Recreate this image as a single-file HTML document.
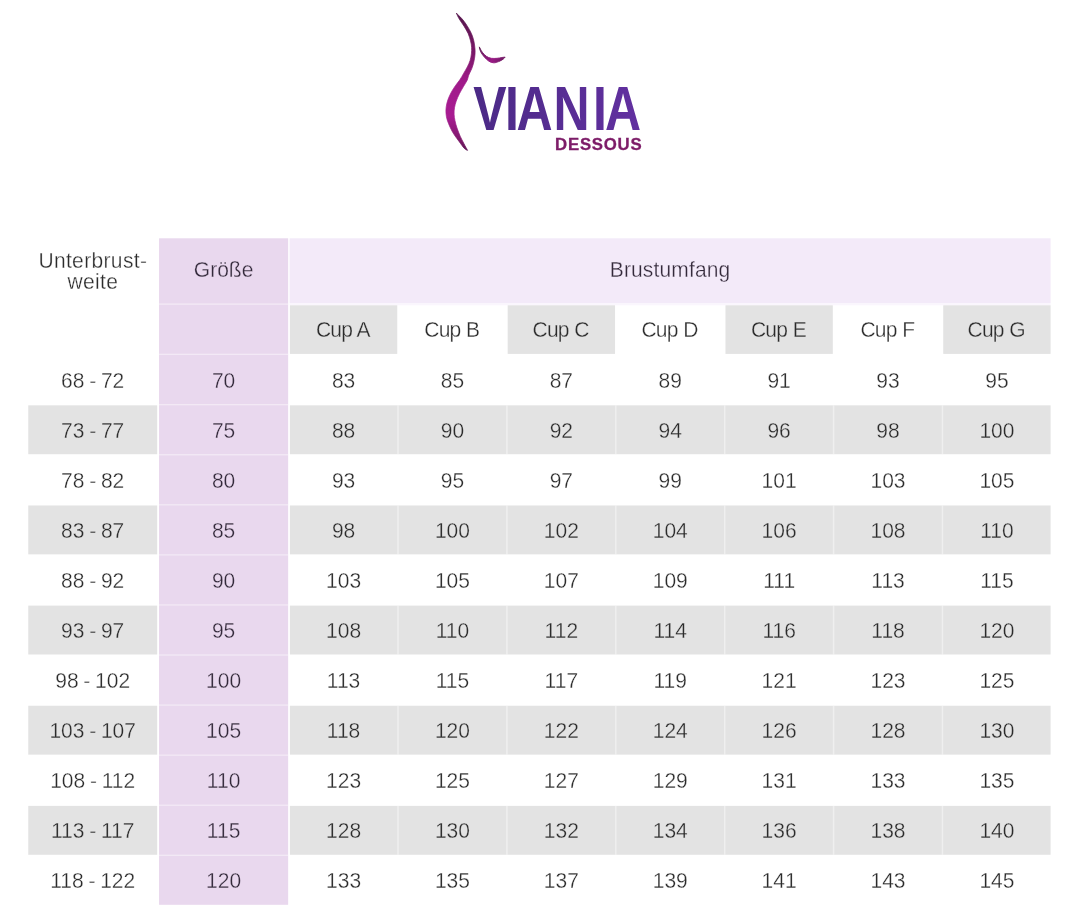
<!DOCTYPE html>
<html lang="de"><head><meta charset="utf-8"><title>VIANIA Dessous Größentabelle</title>
<style>
html,body{margin:0;padding:0;background:#fff;}
body{width:1080px;height:921px;position:relative;overflow:hidden;font-family:"Liberation Sans",sans-serif;color:#2b2b2b;}
.c{position:absolute;text-align:center;font-size:21px;white-space:nowrap;height:50px;line-height:50px;-webkit-text-stroke:0.3px #fff;transform:scaleY(1.06);word-spacing:-1.1px;}
.k{letter-spacing:-0.8px;word-spacing:0.6px;}
.u{letter-spacing:0.35px;}
.w{letter-spacing:0.15px;}
.g{-webkit-text-stroke-color:#e3e3e3;}
.p{-webkit-text-stroke-color:#e9d8ee;color:#33293a;}
.b{-webkit-text-stroke-color:#f3eaf9;color:#33293a;}
svg{position:absolute;left:0;top:0;}
</style></head><body>
<svg width="1080" height="921" viewBox="0 0 1080 921">
<defs>
<linearGradient id="fg" x1="0" y1="13" x2="0" y2="151" gradientUnits="userSpaceOnUse">
<stop offset="0" stop-color="#55164c"/><stop offset="0.3" stop-color="#7c1769"/><stop offset="0.5" stop-color="#a01a8a"/><stop offset="0.75" stop-color="#a81c92"/><stop offset="0.92" stop-color="#7e186b"/><stop offset="1" stop-color="#5a1550"/>
</linearGradient>
<linearGradient id="tg" x1="605" y1="0" x2="817" y2="0" gradientUnits="userSpaceOnUse">
<stop offset="0" stop-color="#4b2a86"/><stop offset="1" stop-color="#6230a0"/>
</linearGradient>
<linearGradient id="bg" x1="479" y1="47" x2="505" y2="60" gradientUnits="userSpaceOnUse">
<stop offset="0" stop-color="#5a1550"/><stop offset="0.6" stop-color="#9a1a86"/><stop offset="1" stop-color="#6a1a5e"/>
</linearGradient>
</defs>
<rect x="289.60" y="238.30" width="760.99" height="64.80" fill="#f3eaf9"/>
<rect x="289.60" y="303.10" width="760.99" height="2.20" fill="#faf6fd"/>
<rect x="289.90" y="305.30" width="107.35" height="48.60" fill="#e3e3e3"/>
<rect x="507.68" y="305.30" width="107.35" height="48.60" fill="#e3e3e3"/>
<rect x="725.46" y="305.30" width="107.35" height="48.60" fill="#e3e3e3"/>
<rect x="943.24" y="305.30" width="107.35" height="48.60" fill="#e3e3e3"/>
<rect x="28.25" y="405.32" width="128.95" height="48.90" fill="#e3e3e3"/>
<rect x="289.90" y="405.32" width="760.69" height="48.90" fill="#e3e3e3"/>
<rect x="397.25" y="405.32" width="1.54" height="48.90" fill="#fff" fill-opacity="0.42"/>
<rect x="506.14" y="405.32" width="1.54" height="48.90" fill="#fff" fill-opacity="0.42"/>
<rect x="615.03" y="405.32" width="1.54" height="48.90" fill="#fff" fill-opacity="0.42"/>
<rect x="723.92" y="405.32" width="1.54" height="48.90" fill="#fff" fill-opacity="0.42"/>
<rect x="832.81" y="405.32" width="1.54" height="48.90" fill="#fff" fill-opacity="0.42"/>
<rect x="941.70" y="405.32" width="1.54" height="48.90" fill="#fff" fill-opacity="0.42"/>
<rect x="28.25" y="505.46" width="128.95" height="48.90" fill="#e3e3e3"/>
<rect x="289.90" y="505.46" width="760.69" height="48.90" fill="#e3e3e3"/>
<rect x="397.25" y="505.46" width="1.54" height="48.90" fill="#fff" fill-opacity="0.42"/>
<rect x="506.14" y="505.46" width="1.54" height="48.90" fill="#fff" fill-opacity="0.42"/>
<rect x="615.03" y="505.46" width="1.54" height="48.90" fill="#fff" fill-opacity="0.42"/>
<rect x="723.92" y="505.46" width="1.54" height="48.90" fill="#fff" fill-opacity="0.42"/>
<rect x="832.81" y="505.46" width="1.54" height="48.90" fill="#fff" fill-opacity="0.42"/>
<rect x="941.70" y="505.46" width="1.54" height="48.90" fill="#fff" fill-opacity="0.42"/>
<rect x="28.25" y="605.60" width="128.95" height="48.90" fill="#e3e3e3"/>
<rect x="289.90" y="605.60" width="760.69" height="48.90" fill="#e3e3e3"/>
<rect x="397.25" y="605.60" width="1.54" height="48.90" fill="#fff" fill-opacity="0.42"/>
<rect x="506.14" y="605.60" width="1.54" height="48.90" fill="#fff" fill-opacity="0.42"/>
<rect x="615.03" y="605.60" width="1.54" height="48.90" fill="#fff" fill-opacity="0.42"/>
<rect x="723.92" y="605.60" width="1.54" height="48.90" fill="#fff" fill-opacity="0.42"/>
<rect x="832.81" y="605.60" width="1.54" height="48.90" fill="#fff" fill-opacity="0.42"/>
<rect x="941.70" y="605.60" width="1.54" height="48.90" fill="#fff" fill-opacity="0.42"/>
<rect x="28.25" y="705.74" width="128.95" height="48.90" fill="#e3e3e3"/>
<rect x="289.90" y="705.74" width="760.69" height="48.90" fill="#e3e3e3"/>
<rect x="397.25" y="705.74" width="1.54" height="48.90" fill="#fff" fill-opacity="0.42"/>
<rect x="506.14" y="705.74" width="1.54" height="48.90" fill="#fff" fill-opacity="0.42"/>
<rect x="615.03" y="705.74" width="1.54" height="48.90" fill="#fff" fill-opacity="0.42"/>
<rect x="723.92" y="705.74" width="1.54" height="48.90" fill="#fff" fill-opacity="0.42"/>
<rect x="832.81" y="705.74" width="1.54" height="48.90" fill="#fff" fill-opacity="0.42"/>
<rect x="941.70" y="705.74" width="1.54" height="48.90" fill="#fff" fill-opacity="0.42"/>
<rect x="28.25" y="805.88" width="128.95" height="48.90" fill="#e3e3e3"/>
<rect x="289.90" y="805.88" width="760.69" height="48.90" fill="#e3e3e3"/>
<rect x="397.25" y="805.88" width="1.54" height="48.90" fill="#fff" fill-opacity="0.42"/>
<rect x="506.14" y="805.88" width="1.54" height="48.90" fill="#fff" fill-opacity="0.42"/>
<rect x="615.03" y="805.88" width="1.54" height="48.90" fill="#fff" fill-opacity="0.42"/>
<rect x="723.92" y="805.88" width="1.54" height="48.90" fill="#fff" fill-opacity="0.42"/>
<rect x="832.81" y="805.88" width="1.54" height="48.90" fill="#fff" fill-opacity="0.42"/>
<rect x="941.70" y="805.88" width="1.54" height="48.90" fill="#fff" fill-opacity="0.42"/>
<rect x="159.05" y="238.30" width="129.10" height="666.50" fill="#e9d8ee"/>
<rect x="159.05" y="303.40" width="129.10" height="1.40" fill="#fff" fill-opacity="0.45"/>
<rect x="159.05" y="353.70" width="129.10" height="1.30" fill="#fff" fill-opacity="0.45"/>
<rect x="159.05" y="404.02" width="129.10" height="1.30" fill="#fff" fill-opacity="0.45"/>
<rect x="159.05" y="454.09" width="129.10" height="1.30" fill="#fff" fill-opacity="0.45"/>
<rect x="159.05" y="504.16" width="129.10" height="1.30" fill="#fff" fill-opacity="0.45"/>
<rect x="159.05" y="554.23" width="129.10" height="1.30" fill="#fff" fill-opacity="0.45"/>
<rect x="159.05" y="604.30" width="129.10" height="1.30" fill="#fff" fill-opacity="0.45"/>
<rect x="159.05" y="654.37" width="129.10" height="1.30" fill="#fff" fill-opacity="0.45"/>
<rect x="159.05" y="704.44" width="129.10" height="1.30" fill="#fff" fill-opacity="0.45"/>
<rect x="159.05" y="754.51" width="129.10" height="1.30" fill="#fff" fill-opacity="0.45"/>
<rect x="159.05" y="804.58" width="129.10" height="1.30" fill="#fff" fill-opacity="0.45"/>
<rect x="159.05" y="854.65" width="129.10" height="1.30" fill="#fff" fill-opacity="0.45"/>
<path fill="url(#fg)" stroke="url(#fg)" stroke-width="0.7" stroke-linejoin="round" d="M456.3,13.1 C457.2,14.1 460.2,16.8 462.0,18.8 C463.8,20.9 465.3,22.9 466.9,25.4 C468.5,27.8 470.2,30.9 471.4,33.5 C472.5,36.1 473.2,38.2 473.8,40.8 C474.4,43.4 474.8,46.5 475.0,49.0 C475.2,51.5 475.1,53.3 474.9,55.5 C474.7,57.7 474.3,59.8 473.8,62.0 C473.3,64.2 472.7,66.2 471.8,68.5 C470.9,70.8 469.2,73.9 468.5,75.8 C467.8,77.7 468.1,78.2 467.3,80.0 C466.5,81.8 464.8,84.2 463.5,86.5 C462.2,88.8 460.6,91.3 459.4,93.8 C458.2,96.2 457.0,98.9 456.2,101.2 C455.4,103.5 454.9,105.5 454.5,107.7 C454.1,109.9 454.0,112.0 454.1,114.2 C454.2,116.4 454.5,118.4 455.0,120.7 C455.5,123.0 456.1,125.4 457.0,128.0 C457.9,130.6 459.1,133.6 460.2,136.2 C461.3,138.8 462.7,141.1 463.9,143.5 C465.1,145.9 467.0,149.2 467.6,150.4 C467.1,150.1 465.7,149.8 464.3,148.4 C462.9,147.0 461.1,144.2 459.4,141.9 C457.7,139.6 455.7,137.0 454.1,134.6 C452.6,132.2 451.2,129.7 450.1,127.2 C449.0,124.8 447.9,122.2 447.2,119.9 C446.5,117.6 446.2,115.6 446.0,113.4 C445.8,111.2 445.9,109.2 446.2,106.9 C446.5,104.6 447.1,102.0 448.0,99.5 C448.9,97.0 450.1,94.5 451.3,92.2 C452.5,89.9 454.0,87.7 455.4,85.7 C456.8,83.7 458.3,82.0 459.7,80.0 C461.1,78.0 462.3,75.6 463.6,73.4 C464.9,71.2 466.2,69.1 467.3,66.9 C468.4,64.7 469.4,62.6 470.1,60.4 C470.8,58.2 471.1,56.1 471.4,53.9 C471.6,51.7 471.8,49.5 471.6,47.3 C471.5,45.1 471.1,43.1 470.5,40.8 C469.9,38.5 469.2,35.9 468.1,33.5 C467.0,31.1 465.5,28.6 464.0,26.2 C462.5,23.8 460.4,21.0 459.1,18.8 C457.8,16.6 456.8,14.1 456.3,13.1 Z"/>
<path fill="url(#bg)" stroke="url(#bg)" stroke-width="0.9" stroke-linejoin="round" d="M479.3,46.9 C479.8,47.8 481.1,50.6 482.3,52.2 C483.5,53.8 484.9,55.3 486.4,56.3 C487.9,57.3 489.5,58.0 491.3,58.3 C493.1,58.6 495.2,58.4 497.0,58.3 C498.8,58.2 500.5,57.7 501.9,57.5 C503.2,57.3 504.6,57.2 505.1,57.1 C504.8,57.5 504.2,58.5 503.1,59.2 C502.0,60.0 500.2,61.0 498.6,61.6 C497.0,62.2 495.3,62.9 493.7,62.8 C492.1,62.7 490.4,62.2 488.9,61.2 C487.3,60.2 485.8,58.7 484.4,57.1 C483.0,55.5 481.5,53.5 480.7,51.8 C479.9,50.1 479.5,47.7 479.3,46.9 Z"/>
<g transform="scale(0.7834,1)"><text x="604.0 644.6 659.2 706.4 756.9 772.3" y="130.4" font-family="'Liberation Sans',sans-serif" font-weight="bold" font-size="63.8" fill="url(#tg)">VIANIA</text></g>
<text transform="translate(555.1,149.6) scale(1.05,1)" font-family="'Liberation Sans',sans-serif" font-weight="bold" font-size="16" fill="#7d1c68" stroke="#7d1c68" stroke-width="0.3" textLength="82.4" lengthAdjust="spacing">DESSOUS</text>
</svg>
<div class="c u" style="left:28.20px;top:250.50px;width:129.30px;line-height:20.2px;height:auto;">Unterbrust-<br>weite</div>
<div class="c p" style="left:159.05px;top:244.90px;width:129.10px;">Größe</div>
<div class="c b w" style="left:289.60px;top:244.90px;width:760.99px;">Brustumfang</div>
<div class="c g k" style="left:289.20px;top:305.10px;width:107.35px;">Cup A</div>
<div class="c  k" style="left:398.09px;top:305.10px;width:107.35px;">Cup B</div>
<div class="c g k" style="left:506.98px;top:305.10px;width:107.35px;">Cup C</div>
<div class="c  k" style="left:615.87px;top:305.10px;width:107.35px;">Cup D</div>
<div class="c g k" style="left:724.76px;top:305.10px;width:107.35px;">Cup E</div>
<div class="c  k" style="left:833.65px;top:305.10px;width:107.35px;">Cup F</div>
<div class="c g k" style="left:942.54px;top:305.10px;width:107.35px;">Cup G</div>
<div class="c " style="left:28.20px;top:355.55px;width:129.00px;">68 - 72</div>
<div class="c p" style="left:159.05px;top:355.55px;width:129.10px;">70</div>
<div class="c " style="left:289.90px;top:355.55px;width:107.35px;">83</div>
<div class="c " style="left:398.79px;top:355.55px;width:107.35px;">85</div>
<div class="c " style="left:507.68px;top:355.55px;width:107.35px;">87</div>
<div class="c " style="left:616.57px;top:355.55px;width:107.35px;">89</div>
<div class="c " style="left:725.46px;top:355.55px;width:107.35px;">91</div>
<div class="c " style="left:834.35px;top:355.55px;width:107.35px;">93</div>
<div class="c " style="left:943.24px;top:355.55px;width:107.35px;">95</div>
<div class="c g" style="left:28.20px;top:405.62px;width:129.00px;">73 - 77</div>
<div class="c p" style="left:159.05px;top:405.62px;width:129.10px;">75</div>
<div class="c g" style="left:289.90px;top:405.62px;width:107.35px;">88</div>
<div class="c g" style="left:398.79px;top:405.62px;width:107.35px;">90</div>
<div class="c g" style="left:507.68px;top:405.62px;width:107.35px;">92</div>
<div class="c g" style="left:616.57px;top:405.62px;width:107.35px;">94</div>
<div class="c g" style="left:725.46px;top:405.62px;width:107.35px;">96</div>
<div class="c g" style="left:834.35px;top:405.62px;width:107.35px;">98</div>
<div class="c g" style="left:943.24px;top:405.62px;width:107.35px;">100</div>
<div class="c " style="left:28.20px;top:455.69px;width:129.00px;">78 - 82</div>
<div class="c p" style="left:159.05px;top:455.69px;width:129.10px;">80</div>
<div class="c " style="left:289.90px;top:455.69px;width:107.35px;">93</div>
<div class="c " style="left:398.79px;top:455.69px;width:107.35px;">95</div>
<div class="c " style="left:507.68px;top:455.69px;width:107.35px;">97</div>
<div class="c " style="left:616.57px;top:455.69px;width:107.35px;">99</div>
<div class="c " style="left:725.46px;top:455.69px;width:107.35px;">101</div>
<div class="c " style="left:834.35px;top:455.69px;width:107.35px;">103</div>
<div class="c " style="left:943.24px;top:455.69px;width:107.35px;">105</div>
<div class="c g" style="left:28.20px;top:505.76px;width:129.00px;">83 - 87</div>
<div class="c p" style="left:159.05px;top:505.76px;width:129.10px;">85</div>
<div class="c g" style="left:289.90px;top:505.76px;width:107.35px;">98</div>
<div class="c g" style="left:398.79px;top:505.76px;width:107.35px;">100</div>
<div class="c g" style="left:507.68px;top:505.76px;width:107.35px;">102</div>
<div class="c g" style="left:616.57px;top:505.76px;width:107.35px;">104</div>
<div class="c g" style="left:725.46px;top:505.76px;width:107.35px;">106</div>
<div class="c g" style="left:834.35px;top:505.76px;width:107.35px;">108</div>
<div class="c g" style="left:943.24px;top:505.76px;width:107.35px;">110</div>
<div class="c " style="left:28.20px;top:555.83px;width:129.00px;">88 - 92</div>
<div class="c p" style="left:159.05px;top:555.83px;width:129.10px;">90</div>
<div class="c " style="left:289.90px;top:555.83px;width:107.35px;">103</div>
<div class="c " style="left:398.79px;top:555.83px;width:107.35px;">105</div>
<div class="c " style="left:507.68px;top:555.83px;width:107.35px;">107</div>
<div class="c " style="left:616.57px;top:555.83px;width:107.35px;">109</div>
<div class="c " style="left:725.46px;top:555.83px;width:107.35px;">111</div>
<div class="c " style="left:834.35px;top:555.83px;width:107.35px;">113</div>
<div class="c " style="left:943.24px;top:555.83px;width:107.35px;">115</div>
<div class="c g" style="left:28.20px;top:605.90px;width:129.00px;">93 - 97</div>
<div class="c p" style="left:159.05px;top:605.90px;width:129.10px;">95</div>
<div class="c g" style="left:289.90px;top:605.90px;width:107.35px;">108</div>
<div class="c g" style="left:398.79px;top:605.90px;width:107.35px;">110</div>
<div class="c g" style="left:507.68px;top:605.90px;width:107.35px;">112</div>
<div class="c g" style="left:616.57px;top:605.90px;width:107.35px;">114</div>
<div class="c g" style="left:725.46px;top:605.90px;width:107.35px;">116</div>
<div class="c g" style="left:834.35px;top:605.90px;width:107.35px;">118</div>
<div class="c g" style="left:943.24px;top:605.90px;width:107.35px;">120</div>
<div class="c " style="left:28.20px;top:655.97px;width:129.00px;">98 - 102</div>
<div class="c p" style="left:159.05px;top:655.97px;width:129.10px;">100</div>
<div class="c " style="left:289.90px;top:655.97px;width:107.35px;">113</div>
<div class="c " style="left:398.79px;top:655.97px;width:107.35px;">115</div>
<div class="c " style="left:507.68px;top:655.97px;width:107.35px;">117</div>
<div class="c " style="left:616.57px;top:655.97px;width:107.35px;">119</div>
<div class="c " style="left:725.46px;top:655.97px;width:107.35px;">121</div>
<div class="c " style="left:834.35px;top:655.97px;width:107.35px;">123</div>
<div class="c " style="left:943.24px;top:655.97px;width:107.35px;">125</div>
<div class="c g" style="left:28.20px;top:706.04px;width:129.00px;">103 - 107</div>
<div class="c p" style="left:159.05px;top:706.04px;width:129.10px;">105</div>
<div class="c g" style="left:289.90px;top:706.04px;width:107.35px;">118</div>
<div class="c g" style="left:398.79px;top:706.04px;width:107.35px;">120</div>
<div class="c g" style="left:507.68px;top:706.04px;width:107.35px;">122</div>
<div class="c g" style="left:616.57px;top:706.04px;width:107.35px;">124</div>
<div class="c g" style="left:725.46px;top:706.04px;width:107.35px;">126</div>
<div class="c g" style="left:834.35px;top:706.04px;width:107.35px;">128</div>
<div class="c g" style="left:943.24px;top:706.04px;width:107.35px;">130</div>
<div class="c " style="left:28.20px;top:756.11px;width:129.00px;">108 - 112</div>
<div class="c p" style="left:159.05px;top:756.11px;width:129.10px;">110</div>
<div class="c " style="left:289.90px;top:756.11px;width:107.35px;">123</div>
<div class="c " style="left:398.79px;top:756.11px;width:107.35px;">125</div>
<div class="c " style="left:507.68px;top:756.11px;width:107.35px;">127</div>
<div class="c " style="left:616.57px;top:756.11px;width:107.35px;">129</div>
<div class="c " style="left:725.46px;top:756.11px;width:107.35px;">131</div>
<div class="c " style="left:834.35px;top:756.11px;width:107.35px;">133</div>
<div class="c " style="left:943.24px;top:756.11px;width:107.35px;">135</div>
<div class="c g" style="left:28.20px;top:806.18px;width:129.00px;">113 - 117</div>
<div class="c p" style="left:159.05px;top:806.18px;width:129.10px;">115</div>
<div class="c g" style="left:289.90px;top:806.18px;width:107.35px;">128</div>
<div class="c g" style="left:398.79px;top:806.18px;width:107.35px;">130</div>
<div class="c g" style="left:507.68px;top:806.18px;width:107.35px;">132</div>
<div class="c g" style="left:616.57px;top:806.18px;width:107.35px;">134</div>
<div class="c g" style="left:725.46px;top:806.18px;width:107.35px;">136</div>
<div class="c g" style="left:834.35px;top:806.18px;width:107.35px;">138</div>
<div class="c g" style="left:943.24px;top:806.18px;width:107.35px;">140</div>
<div class="c " style="left:28.20px;top:856.25px;width:129.00px;">118 - 122</div>
<div class="c p" style="left:159.05px;top:856.25px;width:129.10px;">120</div>
<div class="c " style="left:289.90px;top:856.25px;width:107.35px;">133</div>
<div class="c " style="left:398.79px;top:856.25px;width:107.35px;">135</div>
<div class="c " style="left:507.68px;top:856.25px;width:107.35px;">137</div>
<div class="c " style="left:616.57px;top:856.25px;width:107.35px;">139</div>
<div class="c " style="left:725.46px;top:856.25px;width:107.35px;">141</div>
<div class="c " style="left:834.35px;top:856.25px;width:107.35px;">143</div>
<div class="c " style="left:943.24px;top:856.25px;width:107.35px;">145</div>
</body></html>
